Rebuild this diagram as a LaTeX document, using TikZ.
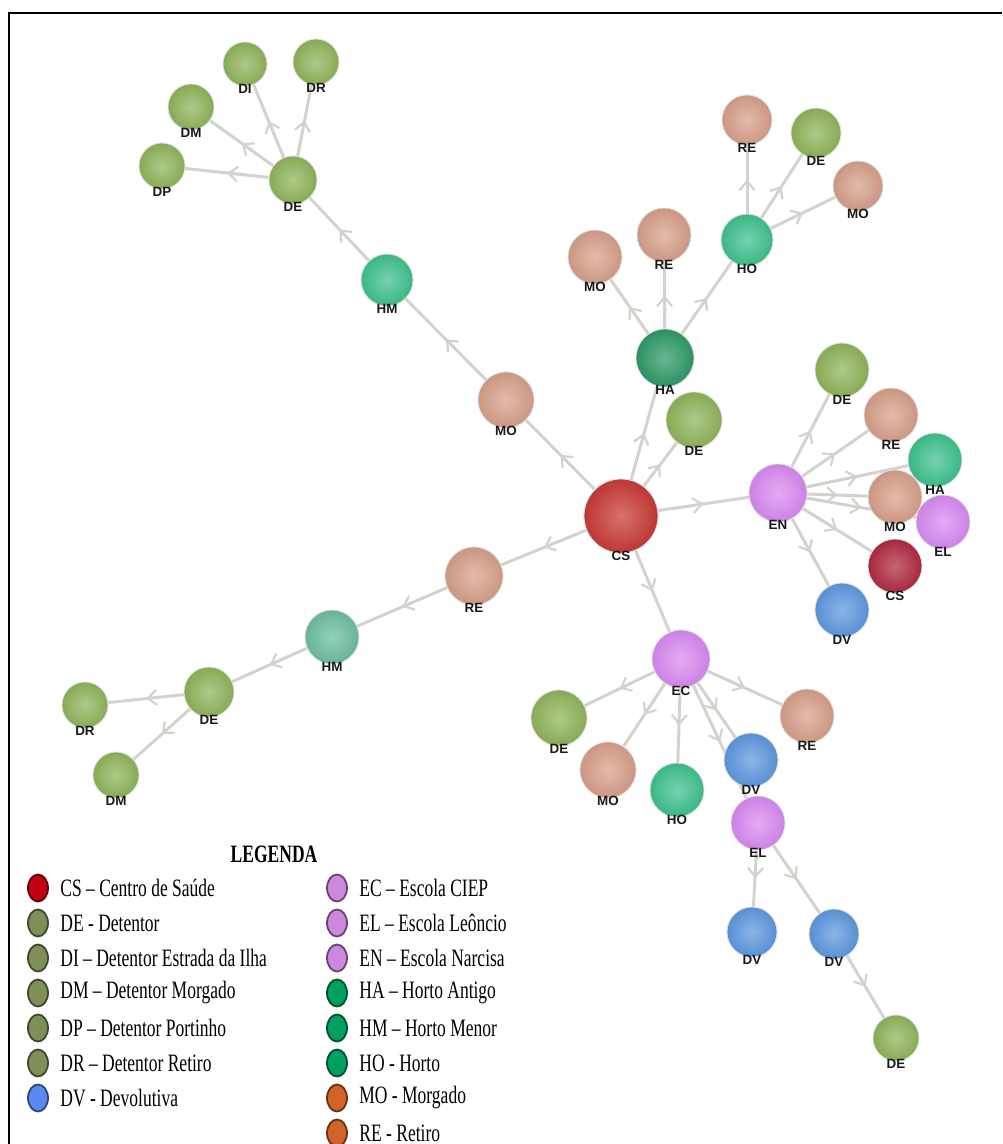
\documentclass[tikz,border=0pt]{standalone}
\usepackage{fontspec}
\newfontfamily\lblfont{Liberation Sans}
\newfontfamily\legfont{Liberation Serif}[FakeStretch=0.70]
\usetikzlibrary{arrows.meta,decorations.markings,backgrounds,shapes.geometric}

% ball colours
\definecolor{csred}{HTML}{C93A36}
\definecolor{csdark}{HTML}{B02A40}
\definecolor{degreen}{HTML}{8FB55A}
\definecolor{hteal}{HTML}{3EC28D}
\definecolor{hadark}{HTML}{2E9A68}
\definecolor{hmpale}{HTML}{6DBFA0}
\definecolor{salmon}{HTML}{D8A08A}
\definecolor{violet}{HTML}{D98AF2}
\definecolor{dvblue}{HTML}{5E98E0}
\definecolor{edgegray}{HTML}{D3D3CE}
% legend colours
\definecolor{lgred}{HTML}{C00010}
\definecolor{lgolive}{HTML}{7E9058}
\definecolor{lgblue}{HTML}{5A8AF0}
\definecolor{lgviolet}{HTML}{CC88DD}
\definecolor{lggreen}{HTML}{00A060}
\definecolor{lgorange}{HTML}{D06428}

\begin{document}
\begin{tikzpicture}[x=0.5pt,y=-0.5pt,
  ball/.style={circle, inner sep=0pt, minimum size=#1pt, draw=white!75!gray, line width=0.4pt},
  tag/.style={label={[lbl]below:#1}},
  lbl/.style={font=\lblfont\fontsize{6.7}{7}\selectfont\bfseries, inner sep=0pt, label distance=-1.5pt, text=black!90},
  shd/.style={inner color=#1!72!white, outer color=#1!94!black},
  link/.style={edgegray, line width=1.5pt, postaction={decorate},
    decoration={markings, mark=at position 0.5 with {\arrow{Straight Barb[length=4.5pt,width=7.5pt,line width=1.1pt]}}}},
  lgdot/.style={ellipse, inner sep=0pt, minimum width=10pt, minimum height=13.5pt, line width=0.9pt, fill=#1, draw=#1!50!black},
  lgtxt/.style={anchor=west, inner sep=0pt, font=\legfont\fontsize{12.5}{14}\selectfont}]
\useasboundingbox (0,0) rectangle (1002,1144);
\draw[line width=1.2pt] (9,1144) -- (9,13) -- (1002,13);

% centre and upper left branch
\node[ball=37,shd=csred,tag=CS] (cs) at (621,516) {};
\node[ball=28,shd=salmon,tag=MO] (mo1) at (506,400) {};
\node[ball=26,shd=hteal,tag=HM] (hm1) at (387,280) {};
\node[ball=24,shd=degreen,tag=DE] (de1) at (293,180) {};
\node[ball=23,shd=degreen,tag=DP] (dp) at (162,166) {};
\node[ball=23,shd=degreen,tag=DM] (dm1) at (191,107) {};
\node[ball=22,shd=degreen,tag=DI] (di) at (245,64) {};
\node[ball=23,shd=degreen,tag=DR] (dr1) at (316,62) {};

% upper branch
\node[ball=29,shd=hadark,tag=HA] (ha1) at (665,358) {};
\node[ball=28,shd=degreen,tag=DE] (de2) at (694,420) {};
\node[ball=27,shd=salmon,tag=MO] (mo2) at (595,257) {};
\node[ball=27,shd=salmon,tag=RE] (re1) at (664,235) {};
\node[ball=26,shd=hteal,tag=HO] (ho1) at (747,240) {};
\node[ball=25,shd=salmon,tag=RE] (re2) at (747,120) {};
\node[ball=25,shd=degreen,tag=DE] (de3) at (816,133) {};
\node[ball=25,shd=salmon,tag=MO] (mo3) at (858,186) {};

% right branch
\node[ball=29,shd=violet,tag=EN] (en) at (778,493) {};
\node[ball=27,shd=degreen,tag=DE] (de4) at (842,370) {};
\node[ball=27,shd=salmon,tag=RE] (re3) at (891,415) {};
\node[ball=27,shd=hteal,tag=HA] (ha2) at (935,460) {};
\node[ball=27,shd=salmon,tag=MO] (mo4) at (895,497) {};
\node[ball=27,shd=violet,tag=EL] (el1) at (943,522) {};
\node[ball=27,shd=csdark,tag=CS] (cs2) at (895,566) {};
\node[ball=27,shd=dvblue,tag=DV] (dv1) at (842,610) {};

% lower left branch
\node[ball=29,shd=salmon,tag=RE] (re4) at (474,576) {};
\node[ball=27,shd=hmpale,tag=HM] (hm2) at (332,637) {};
\node[ball=25,shd=degreen,tag=DE] (de5) at (209,692) {};
\node[ball=23,shd=degreen,tag=DR] (dr2) at (85,705) {};
\node[ball=23,shd=degreen,tag=DM] (dm2) at (116,775) {};

% lower branch
\node[ball=29,shd=violet,tag=EC] (ec) at (681,659) {};
\node[ball=28,shd=degreen,tag=DE] (de6) at (559,718) {};
\node[ball=28,shd=salmon,tag=MO] (mo5) at (608,770) {};
\node[ball=27,shd=hteal,tag=HO] (ho2) at (677,790) {};
\node[ball=27,shd=dvblue,tag=DV] (dv2) at (751,760) {};
\node[ball=27,shd=salmon,tag=RE] (re5) at (807,716) {};
\node[ball=27,shd=violet,tag=EL] (el2) at (758,823) {};
\node[ball=25,shd=dvblue,tag=DV] (dv3) at (752,932) {};
\node[ball=25,shd=dvblue,tag=DV] (dv4) at (834,934) {};
\node[ball=23,shd=degreen,tag=DE] (de7) at (896,1038) {};

\begin{scope}[on background layer]
\foreach \a/\b in {cs/mo1,mo1/hm1,hm1/de1,de1/dp,de1/dm1,de1/di,de1/dr1,
    cs/ha1,cs/de2,ha1/mo2,ha1/re1,ha1/ho1,ho1/re2,ho1/de3,ho1/mo3,
    cs/en,en/de4,en/re3,en/ha2,en/mo4,en/el1,en/cs2,en/dv1,
    cs/re4,re4/hm2,hm2/de5,de5/dr2,de5/dm2,
    cs/ec,ec/de6,ec/mo5,ec/ho2,ec/dv2,ec/el2,ec/re5,el2/dv3,el2/dv4,dv4/de7}
  \draw[link] (\a) -- (\b);
\end{scope}

% legend
\node[font=\legfont\fontsize{12.5}{14}\selectfont\bfseries] (leg) at (274,854) {LEGENDA};
\foreach \c/\t [count=\i] in {lgred/{CS – Centro de Saúde},lgolive/{DE - Detentor},
    lgolive/{DI – Detentor Estrada da Ilha},lgolive/{DM – Detentor Morgado},
    lgolive/{DP – Detentor Portinho},lgolive/{DR – Detentor Retiro},lgblue/{DV - Devolutiva}}
{
  \node[lgdot=\c] (ld\i) at (38,853+35*\i) {};
  \node[lgtxt] (lt\i) at (60,853+35*\i) {\t};
}
\foreach \c/\t [count=\i] in {lgviolet/{EC – Escola CIEP},lgviolet/{EL – Escola Leôncio},
    lgviolet/{EN – Escola Narcisa},lggreen/{HA – Horto Antigo},lggreen/{HM – Horto Menor},
    lggreen/{HO - Horto},lgorange/{MO - Morgado},lgorange/{RE - Retiro}}
{
  \node[lgdot=\c] (rd\i) at (337,853+35*\i) {};
  \node[lgtxt] (rt\i) at (359,853+35*\i) {\t};
}
\end{tikzpicture}
\end{document}
